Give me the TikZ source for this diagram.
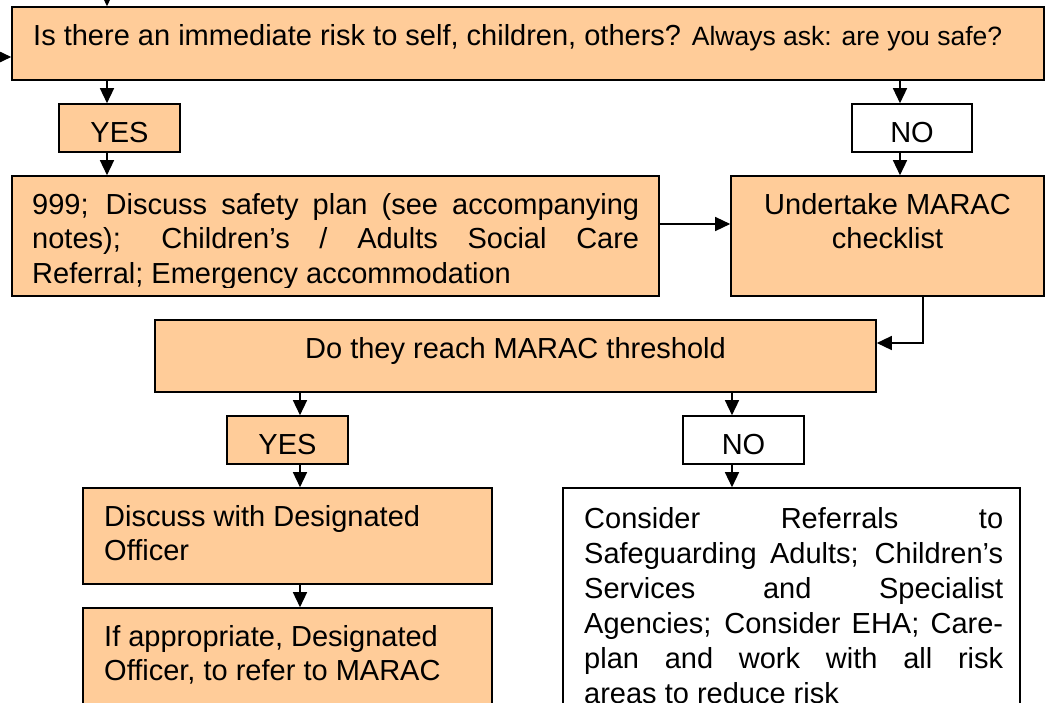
\documentclass[tikz,border=0pt]{standalone}
\usepackage{fontspec}
\setmainfont{Liberation Sans}
\usetikzlibrary{arrows.meta,calc}
\definecolor{peach}{RGB}{255,204,153}
\tikzset{
  box/.style={draw, line width=1.6pt, fill=peach, rectangle, inner sep=0pt},
  wbox/.style={box, fill=white},
  arr/.style={line width=1.4pt, -{Triangle[width=14pt,length=15pt]}},
  lbl/.style={inner sep=0pt, font=\fontsize{29}{34.5}\selectfont},
}
\begin{document}
\begin{tikzpicture}[x=1pt,y=-1pt]
\useasboundingbox (0,0) rectangle (1050,702);
\clip (0,0) rectangle (1050,702);
% boxes
\node[box, minimum width=1032pt, minimum height=73pt] (top) at (528,43.5) {};
\node[box, minimum width=121pt, minimum height=48pt] (yes1) at (119.5,128) {};
\node[wbox, minimum width=120pt, minimum height=48pt] (no1) at (912,128) {};
\node[box, minimum width=647pt, minimum height=120pt] (b999) at (335.5,236) {};
\node[box, minimum width=313pt, minimum height=120pt] (und) at (887.5,236) {};
\node[box, minimum width=721pt, minimum height=72pt] (marac) at (515.5,356) {};
\node[box, minimum width=121pt, minimum height=48pt] (yes2) at (287.5,440) {};
\node[wbox, minimum width=121pt, minimum height=48pt] (no2) at (743.5,440) {};
\node[box, minimum width=409pt, minimum height=96pt] (disc) at (287.5,536) {};
\node[box, minimum width=409pt, minimum height=122pt] (ifapp) at (287.5,669) {};
\node[wbox, minimum width=457pt, minimum height=242pt] (cons) at (791.5,609) {};
% texts
\node[lbl, anchor=base west] (ttop) at (33,45) {Is there an immediate risk to self, children, others? {\fontsize{26.5}{30}\selectfont Always ask: are you safe?}};
\node[lbl, anchor=base] (tyes1) at (119.5,142) {YES};
\node[lbl, anchor=base] (tno1) at (912,142) {NO};
\begin{scope}
\clip (20,180) rectangle (650,287);
\node[lbl, anchor=base west] (t999) at (32,214) {\parbox[t]{607pt}{\fontsize{29}{34.5}\selectfont
\makebox[607pt][s]{999; Discuss safety plan (see accompanying}\\
\makebox[607pt][s]{notes); Children’s / Adults Social Care}\\
Referral; Emergency accommodation}};
\end{scope}
\node[lbl, anchor=base, align=center] (tund) at (887.5,214) {\parbox[t]{300pt}{\centering\fontsize{29}{34.5}\selectfont Undertake MARAC\\checklist}};
\node[lbl, anchor=base] (tmarac) at (515.5,358) {Do they reach MARAC threshold};
\node[lbl, anchor=base] (tyes2) at (287.5,454) {YES};
\node[lbl, anchor=base] (tno2) at (743.5,454) {NO};
\node[lbl, anchor=base west] (tdisc) at (104,526) {\parbox[t]{380pt}{\fontsize{29}{34.5}\selectfont Discuss with Designated\\Officer}};
\node[lbl, anchor=base west] (tifapp) at (104,646) {\parbox[t]{380pt}{\fontsize{29}{34.5}\selectfont If appropriate, Designated\\Officer, to refer to MARAC}};
\node[lbl, anchor=base west] (tcons) at (584,528) {\parbox[t]{419pt}{\fontsize{29}{35}\selectfont
\makebox[419pt][s]{Consider Referrals to}\\
\makebox[419pt][s]{Safeguarding Adults; Children’s}\\
\makebox[419pt][s]{Services and Specialist}\\
\makebox[419pt][s]{Agencies; Consider EHA; Care-}\\
\makebox[419pt][s]{plan and work with all risk}\\
areas to reduce risk}};
% connector helper coordinates
\coordinate (inT) at (107,0);
\coordinate (inL) at (0,57);
\coordinate (xa) at (107,0);
\coordinate (xb) at (900,0);
\coordinate (yc) at (0,224);
\coordinate (xd) at (923,343);
\coordinate (xe) at (300,0);
\coordinate (xf) at (732,0);
% connectors
\draw[arr] (inT) -- (inT |- top.north);
\draw[arr] (inL) -- (inL -| top.west);
\draw[arr] (xa |- top.south) -- (xa |- yes1.north);
\draw[arr] (xa |- yes1.south) -- (xa |- b999.north);
\draw[arr] (xb |- top.south) -- (xb |- no1.north);
\draw[arr] (xb |- no1.south) -- (xb |- und.north);
\draw[arr] (b999.east |- yc) -- (und.west |- yc);
\draw[arr] (xd |- und.south) -- (xd) -- (xd -| marac.east);
\draw[arr] (xe |- marac.south) -- (xe |- yes2.north);
\draw[arr] (xe |- yes2.south) -- (xe |- disc.north);
\draw[arr] (xe |- disc.south) -- (xe |- ifapp.north);
\draw[arr] (xf |- marac.south) -- (xf |- no2.north);
\draw[arr] (xf |- no2.south) -- (xf |- cons.north);
\end{tikzpicture}
\end{document}
